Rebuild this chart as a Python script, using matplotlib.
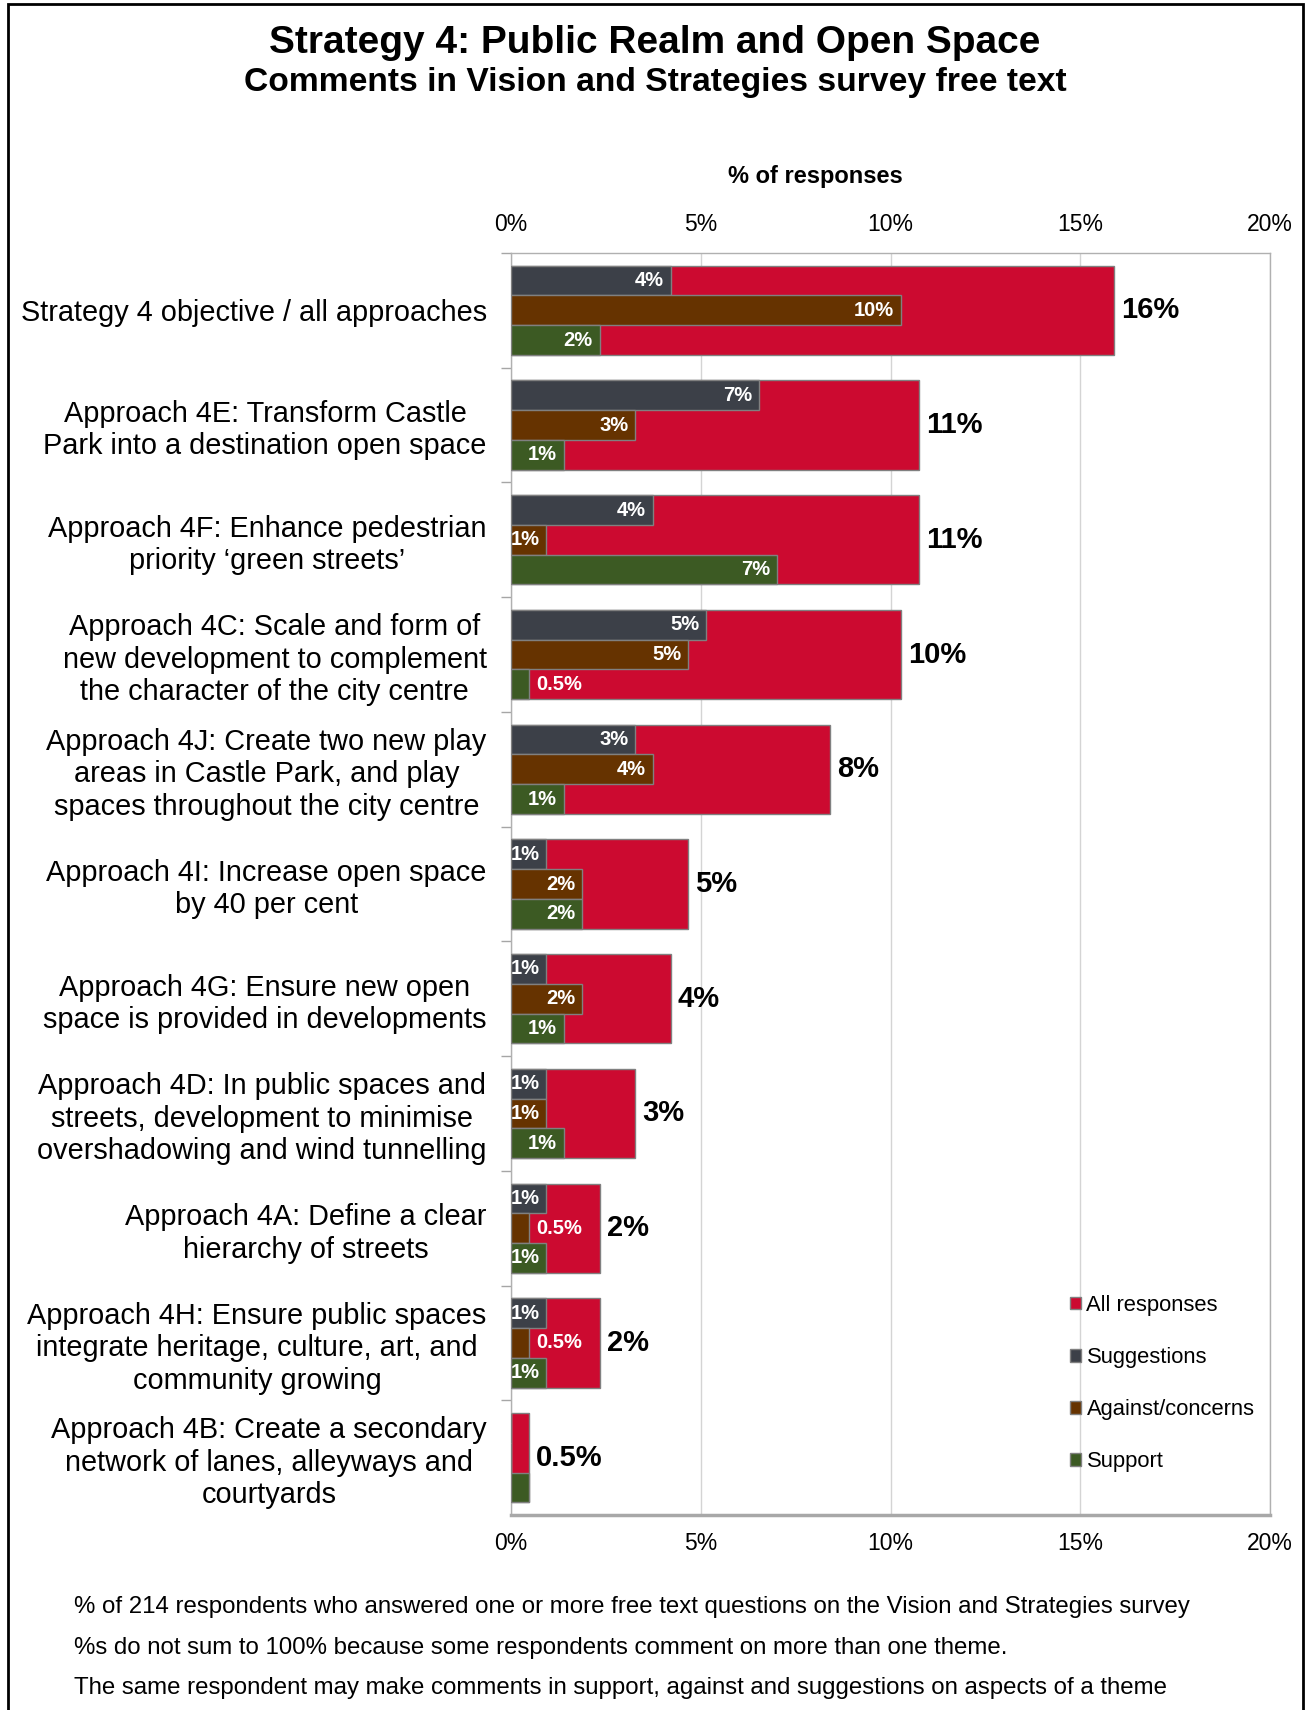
import matplotlib
matplotlib.use("Agg")
import matplotlib.pyplot as plt
from matplotlib.patches import Patch, Rectangle

plt.rcParams['font.family'] = ['Liberation Sans', 'DejaVu Sans']

categories = [
    "Strategy 4 objective / all approaches",
    "Approach 4E: Transform Castle\nPark into a destination open space",
    "Approach 4F: Enhance pedestrian\npriority \u2018green streets\u2019",
    "Approach 4C: Scale and form of\nnew development to complement\nthe character of the city centre",
    "Approach 4J: Create two new play\nareas in Castle Park, and play\nspaces throughout the city centre",
    "Approach 4I: Increase open space\nby 40 per cent",
    "Approach 4G: Ensure new open\nspace is provided in developments",
    "Approach 4D: In public spaces and\nstreets, development to minimise\novershadowing and wind tunnelling",
    "Approach 4A: Define a clear\nhierarchy of streets",
    "Approach 4H: Ensure public spaces\nintegrate heritage, culture, art, and\ncommunity growing",
    "Approach 4B: Create a secondary\nnetwork of lanes, alleyways and\ncourtyards",
]

# % of 214 respondents
all_responses = [15.89, 10.75, 10.75, 10.28, 8.41, 4.67, 4.21, 3.27, 2.34, 2.34, 0.47]
suggestions = [4.21, 6.54, 3.74, 5.14, 3.27, 0.93, 0.93, 0.93, 0.93, 0.93, 0.0]
against = [10.28, 3.27, 0.93, 4.67, 3.74, 1.87, 1.87, 0.93, 0.47, 0.47, 0.0]
support = [2.34, 1.40, 7.01, 0.47, 1.40, 1.87, 1.40, 1.40, 0.93, 0.93, 0.47]

x_ticks = [0, 5, 10, 15, 20]

RED = '#cc0a30'
GREY = '#3c4048'
BROWN = '#663300'
GREEN = '#3c5a23'
EDGE = '#808080'

W, H = 1311, 1710
fig = plt.figure(figsize=(W / 100, H / 100), dpi=100)
ax = fig.add_axes([511 / W, 1 - 1515 / H, (1270 - 511) / W, (1515 - 253) / H])


def pct(v):
    return f"{v:.1f}%" if v < 0.75 else f"{v:.0f}%"


ys = list(range(len(categories)))
full_h = 0.778
thin_h = full_h / 3

ax.barh(ys, all_responses, height=full_h, color=RED, edgecolor=EDGE, linewidth=1, zorder=2)

series = [(suggestions, GREY, -thin_h), (against, BROWN, 0), (support, GREEN, thin_h)]
for vals, col, off in series:
    pos = [y + off for y in ys]
    ax.barh(pos, vals, height=thin_h, color=col, edgecolor=EDGE, linewidth=1, zorder=3)
    for y, v, tot in zip(pos, vals, all_responses):
        if v == 0:
            continue
        if v >= 0.75:
            ax.annotate(pct(v), (v, y), xytext=(-5, 0), textcoords='offset points',
                        ha='right', va='center', color='white', fontsize=14.5,
                        fontweight='bold', zorder=4)
        elif tot > v + 0.6:
            ax.annotate(pct(v), (v, y), xytext=(5, 0), textcoords='offset points',
                        ha='left', va='center', color='white', fontsize=14.5,
                        fontweight='bold', zorder=4)

# totals to the right of each red bar
for y, tot in zip(ys, all_responses):
    ax.annotate(pct(tot), (tot, y), xytext=(5, 0), textcoords='offset points',
                ha='left', va='center', fontsize=21, fontweight='bold', color='black')

ax.set_xlim(0, 20)
ax.set_ylim(len(categories) - 0.5, -0.5)
ax.set_xticks(x_ticks)
ax.set_xticklabels([f"{t}%" for t in x_ticks])
ax.tick_params(axis='x', which='both', top=True, labeltop=True, length=0,
               labelsize=16.5, pad=12)
ax.xaxis.grid(True, color='#d4d4d4', linewidth=1, zorder=0)
ax.set_axisbelow(True)

ax.set_yticks(ys)
ax.set_yticklabels(categories, fontsize=20.8)
for lab in ax.get_yticklabels():
    lab.set_multialignment('center')
ax.tick_params(axis='y', which='major', length=0, pad=17.5)
ax.set_yticks([y + 0.5 for y in ys[:-1]] + [-0.5], minor=True)
ax.tick_params(axis='y', which='minor', length=7, color='#a6a6a6', width=1)

for side in ['top', 'right', 'left']:
    ax.spines[side].set_color('#b0b0b0')
    ax.spines[side].set_linewidth(1)
ax.spines['bottom'].set_color('#a8a8a8')
ax.spines['bottom'].set_linewidth(2.5)

handles = [Patch(facecolor=RED, edgecolor=EDGE, label='All responses'),
           Patch(facecolor=GREY, edgecolor=EDGE, label='Suggestions'),
           Patch(facecolor=BROWN, edgecolor=EDGE, label='Against/concerns'),
           Patch(facecolor=GREEN, edgecolor=EDGE, label='Support')]
ax.legend(handles=handles, loc='upper left',
          bbox_to_anchor=(1070 / W, 1 - 1295 / H), bbox_transform=fig.transFigure,
          frameon=False, fontsize=15.8, handlelength=0.5, handleheight=0.5,
          handletextpad=0.25, labelspacing=1.42, borderpad=0, borderaxespad=0)

fig.text(655 / W, 1 - 43 / H, "Strategy 4: Public Realm and Open Space",
         ha='center', va='center', fontsize=28, fontweight='bold')
fig.text(655 / W, 1 - 83 / H, "Comments in Vision and Strategies survey free text",
         ha='center', va='center', fontsize=24.2, fontweight='bold')
fig.text(815 / W, 1 - 177 / H, "% of responses", ha='center', va='center',
         fontsize=17, fontweight='bold')

notes = [
    "% of 214 respondents who answered one or more free text questions on the Vision and Strategies survey",
    "%s do not sum to 100% because some respondents comment on more than one theme.",
    "The same respondent may make comments in support, against and suggestions on aspects of a theme",
]
for yy, t in zip([1607, 1648, 1688], notes):
    fig.text(74 / W, 1 - yy / H, t, ha='left', va='center', fontsize=17.3)

fig.patches.append(Rectangle((8 / W, -0.05), (1303 - 8) / W, 1.05 - 4 / H,
                             transform=fig.transFigure, fill=False,
                             edgecolor='black', linewidth=2))

fig.savefig('out.png', dpi=100, facecolor='white')
